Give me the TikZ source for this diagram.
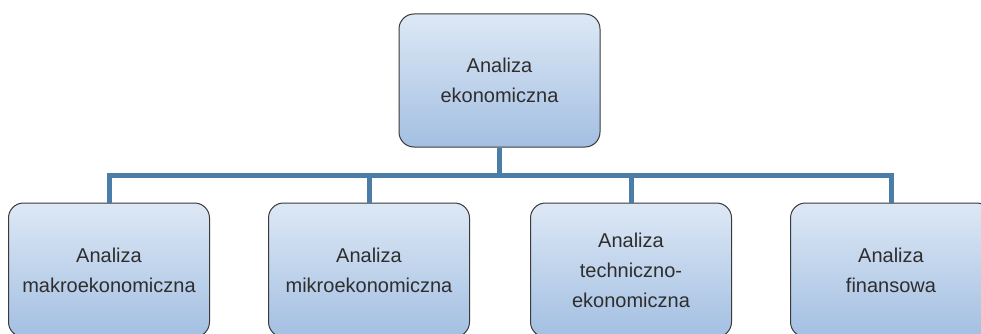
\documentclass[tikz,border=0pt]{standalone}
\usepackage{fontspec}
\setmainfont{Liberation Sans}
\definecolor{boxtop}{HTML}{DDE8F5}
\definecolor{boxbot}{HTML}{A3BFE2}
\definecolor{boxline}{HTML}{3A3A3A}
\definecolor{connline}{HTML}{4A7EA8}
\definecolor{txt}{HTML}{2E2E2E}
\begin{document}
\begin{tikzpicture}[x=1pt,y=-1pt,
  box/.style={draw=boxline, line width=1pt, rounded corners=15pt,
    top color=boxtop, bottom color=boxbot,
    minimum width=201pt, minimum height=134pt, inner sep=0pt,
    align=center, text=txt, font=\fontsize{20}{30}\selectfont},
  conn/.style={draw=connline, line width=5pt}]
\useasboundingbox (0,0) rectangle (981,334);
\clip (0,0) rectangle (981,334);
\coordinate (bar) at (499.5,175);
\node[box, minimum height=133pt] (top) at (499.5,80.5) {Analiza\\ekonomiczna};
\node[box] (b1) at (109,270) {Analiza\\makroekonomiczna};
\node[box] (b2) at (369,270) {Analiza\\mikroekonomiczna};
\node[box] (b3) at (631,270) {Analiza\\techniczno-\\ekonomiczna};
\node[box] (b4) at (891,270) {Analiza\\finansowa};
\draw[conn] (top.south) -- (bar);
\draw[conn] (b1.north) |- (bar) -| (b4.north);
\draw[conn] (b2.north) -- (b2.north |- bar);
\draw[conn] (b3.north) -- (b3.north |- bar);
\end{tikzpicture}
\end{document}
